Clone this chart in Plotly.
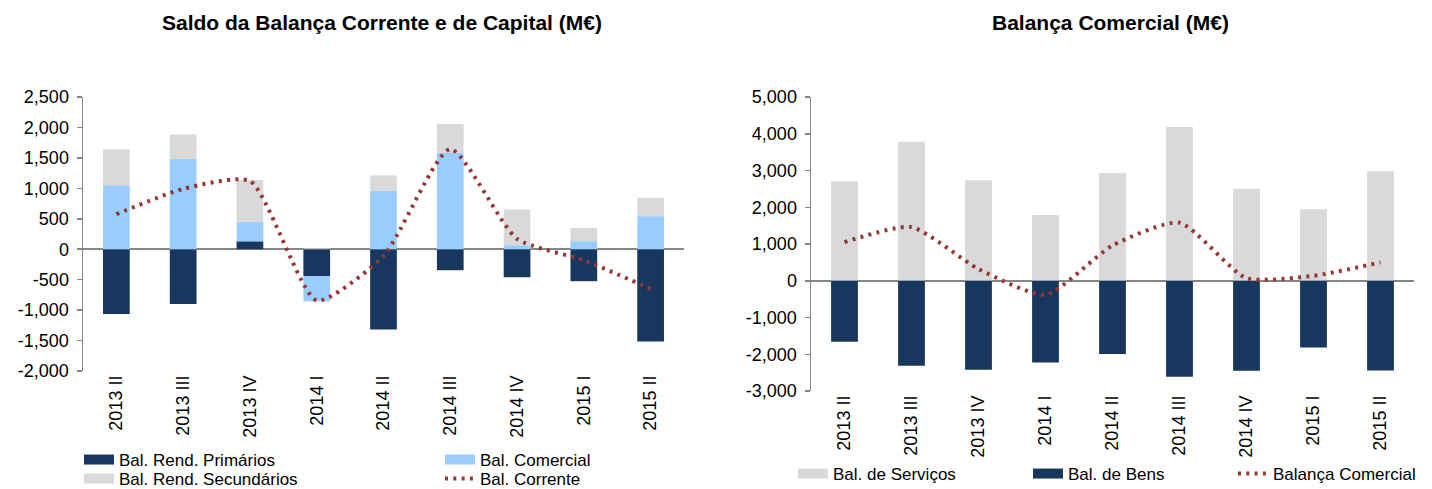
import plotly.graph_objects as go

# ---------------- data ----------------
categories = ["2013 II", "2013 III", "2013 IV", "2014 I", "2014 II",
              "2014 III", "2014 IV", "2015 I", "2015 II"]

# Left chart: Saldo da Balança Corrente e de Capital (M€)
rend_primarios = [-1065, -900, 130, -440, -1320, -345, -460, -525, -1515]
bal_comercial = [1050, 1480, 320, -415, 955, 1580, 66, 132, 543]
rend_secundarios = [590, 405, 685, 15, 258, 477, 586, 219, 301]
bal_corrente = [575, 990, 1120, -840, -110, 1645, 170, -180, -650]

left_tickvals = [2500, 2000, 1500, 1000, 500, 0, -500, -1000, -1500, -2000]
left_ticktext = ["2,500", "2,000", "1,500", "1,000", "500", "0",
                 "-500", "-1,000", "-1,500", "-2,000"]

# Right chart: Balança Comercial (M€)
bal_servicos = [2705, 3785, 2735, 1790, 2935, 4185, 2505, 1945, 2980]
bal_bens = [-1660, -2310, -2425, -2225, -1990, -2615, -2450, -1815, -2445]
balanca_comercial = [1050, 1460, 320, -380, 960, 1580, 70, 135, 500]

right_tickvals = [5000, 4000, 3000, 2000, 1000, 0, -1000, -2000, -3000]
right_ticktext = ["5,000", "4,000", "3,000", "2,000", "1,000", "0",
                  "-1,000", "-2,000", "-3,000"]

# ---------------- styles ----------------
W, H = 1432, 489
NAVY = "#17375E"
LIGHTBLUE = "#99CCFF"
GRAY = "#D9D9D9"
RED = "#953735"
AXIS = "#868686"
FONT = "Liberation Sans, Arial, sans-serif"
DASH = "3px,5.3px"
DOT = dict(color=RED, width=4, dash=DASH)
SMOOTH = 0.6

fig = go.Figure()

# ---- left chart ----
fig.add_bar(x=categories, y=rend_primarios, marker_color=NAVY, name="Bal. Rend. Primários",
            xaxis="x", yaxis="y", showlegend=False)
fig.add_bar(x=categories, y=bal_comercial, marker_color=LIGHTBLUE, name="Bal. Comercial",
            xaxis="x", yaxis="y", showlegend=False)
fig.add_bar(x=categories, y=rend_secundarios, marker_color=GRAY, name="Bal. Rend. Secundários",
            xaxis="x", yaxis="y", showlegend=False)
fig.add_scatter(x=categories, y=bal_corrente, mode="lines",
                line=dict(shape="spline", smoothing=SMOOTH, **DOT),
                name="Bal. Corrente", xaxis="x", yaxis="y", showlegend=False)

# ---- right chart ----
fig.add_bar(x=categories, y=bal_servicos, marker_color=GRAY, name="Bal. de Serviços",
            xaxis="x2", yaxis="y2", showlegend=False)
fig.add_bar(x=categories, y=bal_bens, marker_color=NAVY, name="Bal. de Bens",
            xaxis="x2", yaxis="y2", showlegend=False)
fig.add_scatter(x=categories, y=balanca_comercial, mode="lines",
                line=dict(shape="spline", smoothing=SMOOTH, **DOT),
                name="Balança Comercial", xaxis="x2", yaxis="y2", showlegend=False)

# ---- legend entries (wide keys like the original) ----
def key(name, color, legend, width=10, dash=None, lw=None):
    line = dict(color=color, width=width)
    if dash:
        line["dash"] = dash
    fig.add_scatter(x=[None], y=[None], mode="lines", line=line, name=name,
                    legend=legend, legendwidth=lw, xaxis="x", yaxis="y", hoverinfo="skip")

key("Bal. Rend. Primários", NAVY, "legend", lw=316)
key("Bal. Comercial", LIGHTBLUE, "legend")
key("Bal. Rend. Secundários", GRAY, "legend2", lw=316)
key("Bal. Corrente", RED, "legend2", width=4, dash=DASH)
key("Bal. de Serviços", GRAY, "legend3", lw=190)
key("Bal. de Bens", NAVY, "legend3", lw=160)
key("Balança Comercial", RED, "legend3", width=4, dash=DASH)

leg_common = dict(orientation="h", xanchor="left", yanchor="middle",
                  font=dict(family=FONT, size=17, color="#000000"),
                  bgcolor="rgba(0,0,0,0)", borderwidth=0, tracegroupgap=0,
                  itemclick=False, itemdoubleclick=False)

def px_x(p):
    return p / W

def px_y(p):
    return 1 - p / H

yaxis_common = dict(showline=True, linecolor=AXIS, linewidth=1.5, ticks="outside",
                    ticklen=5, tickwidth=1.5, tickcolor=AXIS, showgrid=False,
                    zeroline=True, zerolinecolor=AXIS, zerolinewidth=2,
                    tickfont=dict(family=FONT, size=18, color="#000000"),
                    ticklabelstandoff=4, automargin=False)
xaxis_common = dict(type="category", showline=False, ticks="", showgrid=False,
                    zeroline=False, tickangle=-90, automargin=False,
                    tickfont=dict(family=FONT, size=18, color="#000000"))

fig.update_layout(
    width=W, height=H,
    margin=dict(l=0, r=0, t=0, b=0, autoexpand=False),
    paper_bgcolor="white", plot_bgcolor="white",
    template="none",
    barmode="relative", bargap=0.6,
    font=dict(family=FONT, size=18, color="#000000"),
    xaxis=dict(domain=[px_x(83), px_x(684)], anchor="y", **xaxis_common),
    yaxis=dict(domain=[px_y(371), px_y(97)], anchor="x", range=[-2000, 2500],
               tickvals=left_tickvals, ticktext=left_ticktext, **yaxis_common),
    xaxis2=dict(domain=[px_x(811), px_x(1414)], anchor="y2", **xaxis_common),
    yaxis2=dict(domain=[px_y(391), px_y(97)], anchor="x2", range=[-3000, 5000],
                tickvals=right_tickvals, ticktext=right_ticktext, **yaxis_common),
    legend=dict(x=px_x(79), y=px_y(460), **leg_common),
    legend2=dict(x=px_x(79), y=px_y(479), **leg_common),
    legend3=dict(x=px_x(793), y=px_y(474), **leg_common),
    annotations=[
        dict(text="<b>Saldo da Balança Corrente e de Capital (M€)</b>", x=px_x(382), y=px_y(22),
             xref="paper", yref="paper", xanchor="center", yanchor="middle", showarrow=False,
             font=dict(family=FONT, size=21, color="#000000")),
        dict(text="<b>Balança Comercial (M€)</b>", x=px_x(1110), y=px_y(22),
             xref="paper", yref="paper", xanchor="center", yanchor="middle", showarrow=False,
             font=dict(family=FONT, size=21, color="#000000")),
    ],
    showlegend=True,
)

fig.write_html("out.html", config={"displayModeBar": False, "staticPlot": True},
               post_script="document.body.style.margin='0px';document.body.style.overflow='hidden';")
